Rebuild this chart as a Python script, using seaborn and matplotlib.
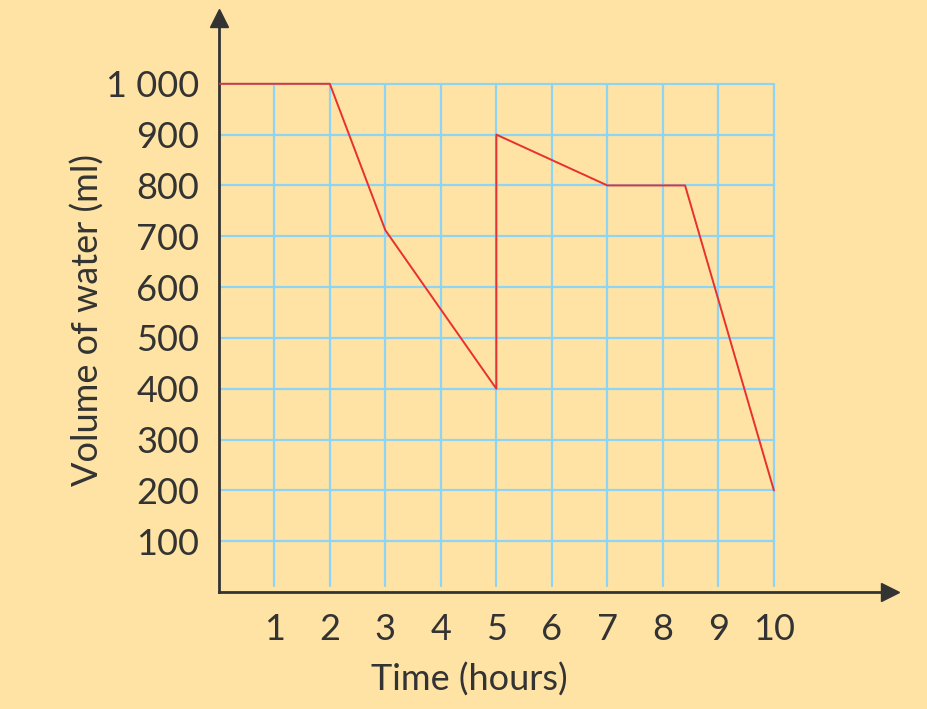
import matplotlib
matplotlib.use("Agg")
import matplotlib.pyplot as plt
import seaborn as sns
import pandas as pd

# data
time_hours = [0, 2, 3, 5, 5, 7, 8.4, 10]
volume_ml = [1000, 1000, 712, 400, 900, 800, 800, 200]
x_ticks = [1, 2, 3, 4, 5, 6, 7, 8, 9, 10]
y_ticks = [100, 200, 300, 400, 500, 600, 700, 800, 900, 1000]
y_tick_labels = ["100", "200", "300", "400", "500", "600", "700", "800", "900", "1 000"]

bg = "#FEE3A4"
grid_col = "#8ED4F4"
line_col = "#E8302F"
ink = "#333333"

sns.set_style("white")
plt.rcParams["font.family"] = ["Lato", "DejaVu Sans"]

df = pd.DataFrame({"Time": time_hours, "Volume": volume_ml})

fig = plt.figure(figsize=(9.27, 7.09), dpi=100, facecolor=bg)
ax = fig.add_axes([0.236, 0.165, 0.724, 0.81])
ax.set_facecolor(bg)

# grid (only inside 0..10, 0..1000)
for x in x_ticks:
    ax.plot([x, x], [12, 1000], color=grid_col, lw=1.6, zorder=1)
for y in y_ticks:
    ax.plot([0, 10], [y, y], color=grid_col, lw=1.6, zorder=1)

sns.lineplot(data=df, x="Time", y="Volume", sort=False, estimator=None,
             color=line_col, lw=1.4, ax=ax, zorder=3)

ax.set_xlim(0, 12.09)
ax.set_ylim(0, 1130)
ax.set_xticks(x_ticks)
ax.set_xticklabels([str(v) for v in x_ticks])
ax.set_yticks(y_ticks)
ax.set_yticklabels(y_tick_labels)

for s in ["top", "right"]:
    ax.spines[s].set_visible(False)
for s in ["left", "bottom"]:
    ax.spines[s].set_color(ink)
    ax.spines[s].set_linewidth(2)

ax.tick_params(axis="x", direction="inout", length=16, width=1.5, color=ink,
               labelsize=26, labelcolor=ink, pad=7)
ax.tick_params(axis="y", direction="inout", length=16, width=1.5, color=ink,
               labelsize=26, labelcolor=ink, pad=6)

# arrow heads
ax.plot(1, 0, ">", color=ink, ms=13, transform=ax.get_yaxis_transform(), clip_on=False)
ax.plot(0, 1, "^", color=ink, ms=13, transform=ax.get_xaxis_transform(), clip_on=False)

ax.set_xlabel("Time (hours)", fontsize=26, color=ink)
ax.set_ylabel("Volume of water (ml)", fontsize=26, color=ink)
ax.xaxis.set_label_coords(0.374, -0.122)
ax.yaxis.set_label_coords(-0.17, 0.474)

fig.savefig("out.png", dpi=100, facecolor=bg)
